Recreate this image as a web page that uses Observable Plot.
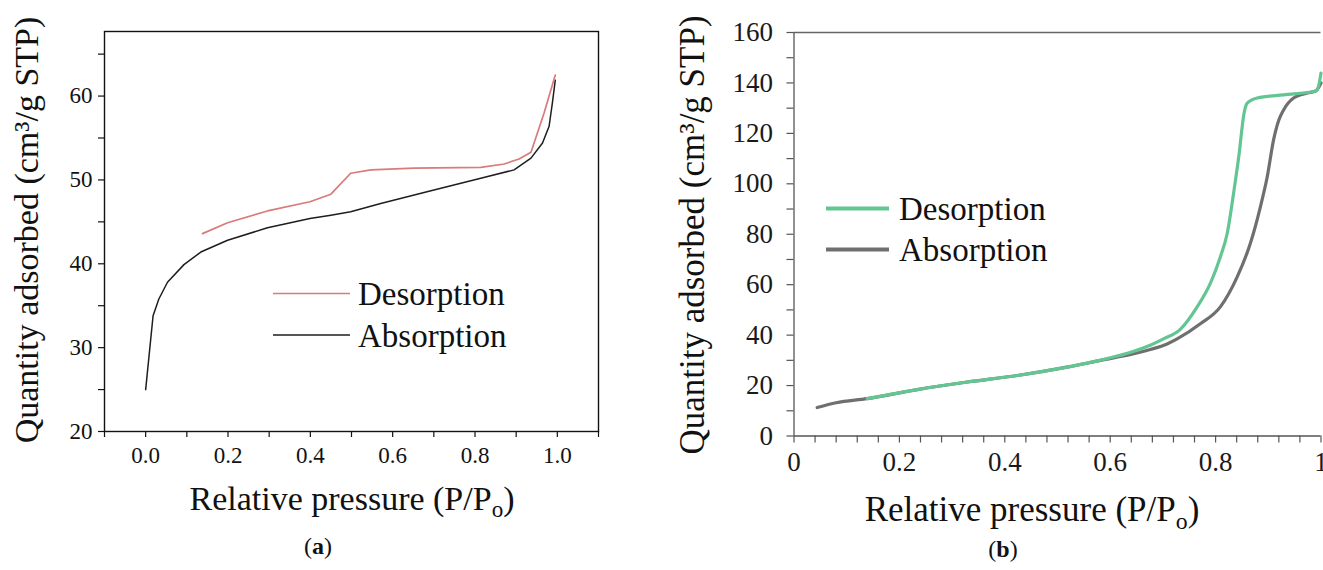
<!DOCTYPE html>
<html>
<head>
<meta charset="utf-8">
<script src="https://cdn.jsdelivr.net/npm/d3@7"></script>
<script src="https://cdn.jsdelivr.net/npm/@observablehq/plot@0.6"></script>
<style>
  html, body { margin: 0; padding: 0; background: #fff; }
  #wrap { position: relative; width: 1323px; height: 570px; overflow: hidden; background: #fff; }
  #pa { position: absolute; left: 0; top: 0; width: 620px; height: 520px; }
  #pb { position: absolute; left: 660px; top: 0; width: 700px; height: 520px; }
  #pa svg, #pb svg { max-width: none !important; display: block; }
  #overlay { position: absolute; left: 0; top: 0; pointer-events: none; }
</style>
</head>
<body>
<div id="wrap">
  <div id="pa"></div>
  <div id="pb"></div>
</div>
<script>
// ---------- Panel (a) data ----------
const absP_a = [0, 0.018, 0.032, 0.053, 0.093, 0.134, 0.199, 0.296, 0.399, 0.45, 0.498, 0.571, 0.693, 0.814, 0.895, 0.936, 0.964, 0.98, 0.988, 0.995];
const absQ_a = [25.0, 33.8, 35.8, 37.8, 39.9, 41.4, 42.8, 44.3, 45.4, 45.8, 46.2, 47.2, 48.7, 50.2, 51.2, 52.6, 54.4, 56.4, 59.2, 61.9];
const desP_a = [0.138, 0.199, 0.296, 0.399, 0.45, 0.498, 0.547, 0.652, 0.814, 0.871, 0.907, 0.936, 0.968, 0.995];
const desQ_a = [43.6, 44.9, 46.3, 47.4, 48.3, 50.8, 51.2, 51.4, 51.5, 51.9, 52.5, 53.3, 58.0, 62.5];
const xTicksA = [0, 0.2, 0.4, 0.6, 0.8, 1.0];
const xMinorA = [-0.1, 0.1, 0.3, 0.5, 0.7, 0.9, 1.1];
const yTicksA = [20, 30, 40, 50, 60];
const yMinorA = [25, 35, 45, 55, 65];

// ---------- Panel (b) data ----------
const absP_b = [0.044, 0.08, 0.139, 0.234, 0.329, 0.424, 0.518, 0.582, 0.645, 0.676, 0.708, 0.727, 0.771, 0.809, 0.841, 0.866, 0.885, 0.898, 0.910, 0.920, 0.929, 0.948, 0.974, 0.99, 1.0];
const absQ_b = [11.3, 13.2, 14.8, 18.4, 21.4, 24.0, 27.3, 30.0, 32.6, 34.3, 36.5, 38.5, 44.5, 51.2, 63.1, 76.4, 90.9, 102.8, 117.4, 125.3, 129.3, 134.0, 136.0, 136.8, 140.0];
const desP_b = [0.139, 0.234, 0.329, 0.424, 0.518, 0.582, 0.645, 0.676, 0.702, 0.733, 0.765, 0.790, 0.809, 0.822, 0.835, 0.844, 0.854, 0.860, 0.879, 0.929, 0.986, 0.993, 1.0];
const desQ_b = [14.8, 18.4, 21.4, 24.0, 27.3, 30.1, 33.6, 36.0, 38.6, 42.3, 51.2, 60.5, 71.0, 80.3, 97.5, 110.8, 128.0, 132.0, 134.0, 135.3, 136.6, 137.3, 143.9];
const xTicksB = [0, 0.2, 0.4, 0.6, 0.8, 1];
const xMinorB = [0.04, 0.08, 0.12, 0.16, 0.24, 0.28, 0.32, 0.36, 0.44, 0.48, 0.52, 0.56, 0.64, 0.68, 0.72, 0.76, 0.84, 0.88, 0.92, 0.96];
const yTicksB = [0, 20, 40, 60, 80, 100, 120, 140, 160];
const yMinorB = [10, 30, 50, 70, 90, 110, 130, 150];

const seriesNames = ["Desorption", "Absorption"];

const toRows = (P, Q) => P.map((p, i) => ({p, q: Q[i]}));

const serif = "'Liberation Serif', 'DejaVu Serif', serif";

// ---------- Plot (a) ----------
const plotA = Plot.plot({
  width: 620, height: 520,
  marginLeft: 104, marginRight: 22, marginTop: 31, marginBottom: 89,
  x: {domain: [-0.1, 1.1], label: null},
  y: {domain: [20, 67.7], label: null},
  style: {fontFamily: serif, fontSize: "23px", color: "#111", background: "transparent", maxWidth: "none"},
  marks: [
    Plot.axisX(xTicksA, {tickSize: 6, tickPadding: 9, tickFormat: d3.format(".1f"), label: null, stroke: "#111", strokeWidth: 1.2, fill: "#111"}),
    Plot.axisX(xMinorA, {tickSize: 6, text: null, label: null, stroke: "#111", strokeWidth: 1.2}),
    Plot.axisY(yTicksA, {tickSize: 6, tickPadding: 6, label: null, stroke: "#111", strokeWidth: 1.2, fill: "#111"}),
    Plot.axisY(yMinorA, {tickSize: 6, text: null, label: null, stroke: "#111", strokeWidth: 1.2}),
    Plot.frame({stroke: "#111", strokeWidth: 1.4}),
    Plot.line(toRows(absP_a, absQ_a), {x: "p", y: "q", stroke: "#1e1e1e", strokeWidth: 1.5}),
    Plot.line(toRows(desP_a, desQ_a), {x: "p", y: "q", stroke: "#d97a7b", strokeWidth: 1.7})
  ]
});
document.getElementById("pa").appendChild(plotA);

// ---------- Plot (b) ----------
const plotB = Plot.plot({
  width: 700, height: 520,
  marginLeft: 133.5, marginRight: 39.5, marginTop: 32, marginBottom: 84.5,
  x: {domain: [0, 1], label: null},
  y: {domain: [0, 160], label: null},
  style: {fontFamily: serif, fontSize: "27px", color: "#1a1a1a", background: "transparent", maxWidth: "none"},
  marks: [
    Plot.axisX(xTicksB, {tickSize: 7, tickPadding: 9, tickFormat: d3.format("~g"), label: null, stroke: "#555", strokeWidth: 1.2, fill: "#1a1a1a"}),
    Plot.axisX(xMinorB, {tickSize: 7, text: null, label: null, stroke: "#555", strokeWidth: 1.2}),
    Plot.axisY(yTicksB, {tickSize: 7, tickPadding: 14, label: null, stroke: "#555", strokeWidth: 1.2, fill: "#1a1a1a"}),
    Plot.axisY(yMinorB, {tickSize: 7, text: null, label: null, stroke: "#555", strokeWidth: 1.2}),
    Plot.ruleY([0], {stroke: "#555", strokeWidth: 1.3}),
    Plot.ruleY([160], {stroke: "#666", strokeWidth: 1.3}),
    Plot.ruleX([0], {stroke: "#555", strokeWidth: 1.3}),
    Plot.line(toRows(absP_b, absQ_b), {x: "p", y: "q", stroke: "#6f6f6f", strokeWidth: 3.2, curve: "monotone-x", strokeLinecap: "round"}),
    Plot.line(toRows(desP_b, desQ_b), {x: "p", y: "q", stroke: "#62c592", strokeWidth: 3.2, curve: "monotone-x", strokeLinecap: "round"})
  ]
});
document.getElementById("pb").appendChild(plotB);

// ---------- Overlay: titles, legends, captions ----------
const svg = d3.select("#wrap").append("svg")
  .attr("id", "overlay").attr("width", 1323).attr("height", 570)
  .style("font-family", serif).style("fill", "#111");

function xTitle(cx, baseline, size) {
  const t = svg.append("text").attr("x", cx).attr("y", baseline)
    .attr("text-anchor", "middle").attr("font-size", size).attr("fill", "#111")
    .attr("font-family", serif);
  t.append("tspan").text("Relative pressure (P/P");
  t.append("tspan").attr("font-size", size * 0.68).attr("dy", size * 0.22).text("o");
  t.append("tspan").attr("dy", -size * 0.22).text(")");
}
function yTitle(baselineX, cy, size) {
  svg.append("text")
    .attr("transform", `translate(${baselineX},${cy}) rotate(-90)`)
    .attr("text-anchor", "middle").attr("font-size", size).attr("fill", "#111")
    .attr("font-family", serif)
    .text("Quantity adsorbed (cm³/g STP)");
}
xTitle(352, 510, 34);
yTitle(38, 230, 34);
xTitle(1032, 521, 35);
yTitle(704, 235, 35);

// legends
function legend(x0, x1, xText, rows, size, sw) {
  rows.forEach(r => {
    svg.append("line").attr("x1", x0).attr("x2", x1).attr("y1", r.y).attr("y2", r.y)
      .attr("stroke", r.color).attr("stroke-width", sw);
    svg.append("text").attr("x", xText).attr("y", r.y + 11.5)
      .attr("font-size", size).attr("fill", "#111").attr("font-family", serif).text(r.name);
  });
}
legend(273, 350, 358, [
  {name: seriesNames[0], color: "#d97a7b", y: 293.5},
  {name: seriesNames[1], color: "#1e1e1e", y: 335}
], 33, 1.7);
legend(826, 889, 899, [
  {name: seriesNames[0], color: "#62c592", y: 208.5},
  {name: seriesNames[1], color: "#6f6f6f", y: 249.5}
], 33, 4);

// captions
function caption(cx, baseline, letter) {
  const t = svg.append("text").attr("x", cx).attr("y", baseline)
    .attr("text-anchor", "middle").attr("font-size", 24).attr("fill", "#111")
    .attr("font-family", serif);
  t.append("tspan").text("(");
  t.append("tspan").attr("font-weight", "bold").text(letter);
  t.append("tspan").text(")");
}
caption(318, 554, "a");
caption(1003, 557, "b");
</script>
</body>
</html>
